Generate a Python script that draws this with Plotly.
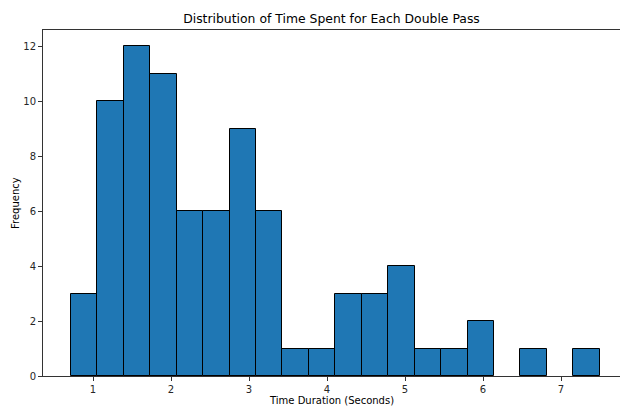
import plotly.graph_objects as go

# Histogram data
bin_start = 0.718
bin_end = 7.496
counts = [3, 10, 12, 11, 6, 6, 9, 6, 1, 1, 3, 3, 4, 1, 1, 2, 0, 1, 0, 1]
x_ticks = [1, 2, 3, 4, 5, 6, 7]
y_ticks = [0, 2, 4, 6, 8, 10, 12]

n = len(counts)
w = (bin_end - bin_start) / n
centers = [bin_start + w * (i + 0.5) for i in range(n)]
plot_counts = [c if c > 0 else None for c in counts]

W, H = 620, 407
ml, mr, mt, mb = 43, 0, 30, 31
pw = W - ml - mr
ph = H - mt - mb

fig = go.Figure(go.Bar(
    x=centers, y=plot_counts, width=[w] * n,
    marker=dict(color="#1f77b4", line=dict(color="#000000", width=1)),
    hoverinfo="x+y",
))

font = "DejaVu Sans, sans-serif"
fig.update_layout(
    width=W, height=H,
    margin=dict(l=ml, r=mr, t=mt, b=mb),
    paper_bgcolor="white", plot_bgcolor="white",
    showlegend=False,
    font=dict(family=font, size=10, color="#262626"),
    title=dict(text="Distribution of Time Spent for Each Double Pass",
               x=(ml + pw / 2) / W, xanchor="center",
               y=1 - 19 / H, yanchor="middle",
               font=dict(size=12.4, color="#000000", family=font)),
    bargap=0,
)
fig.update_xaxes(
    range=[0.359, 7.756], tickvals=x_ticks, ticktext=[str(t) for t in x_ticks],
    showgrid=False, zeroline=False,
    showline=True, linecolor="#333333", linewidth=1, mirror=True,
    ticks="outside", ticklen=4, tickcolor="#333333",
    tickfont=dict(size=10, color="#262626"),
)
fig.update_yaxes(
    range=[0, 12.6], tickvals=y_ticks, ticktext=[str(t) for t in y_ticks],
    showgrid=False, zeroline=False,
    showline=True, linecolor="#333333", linewidth=1,
    ticks="outside", ticklen=4, tickcolor="#333333",
    tickfont=dict(size=10, color="#262626"),
)
fig.add_annotation(text="Time Duration (Seconds)", xref="paper", yref="paper",
                   x=0.5, y=-(400 - (H - mb)) / ph, xanchor="center", yanchor="middle",
                   showarrow=False, font=dict(size=10, color="#000000"))
fig.add_annotation(text="Frequency", xref="paper", yref="paper",
                   x=(15 - ml) / pw, y=0.5, xanchor="center", yanchor="middle",
                   textangle=-90, showarrow=False, font=dict(size=10, color="#000000"))

fig.write_html("out.html")
